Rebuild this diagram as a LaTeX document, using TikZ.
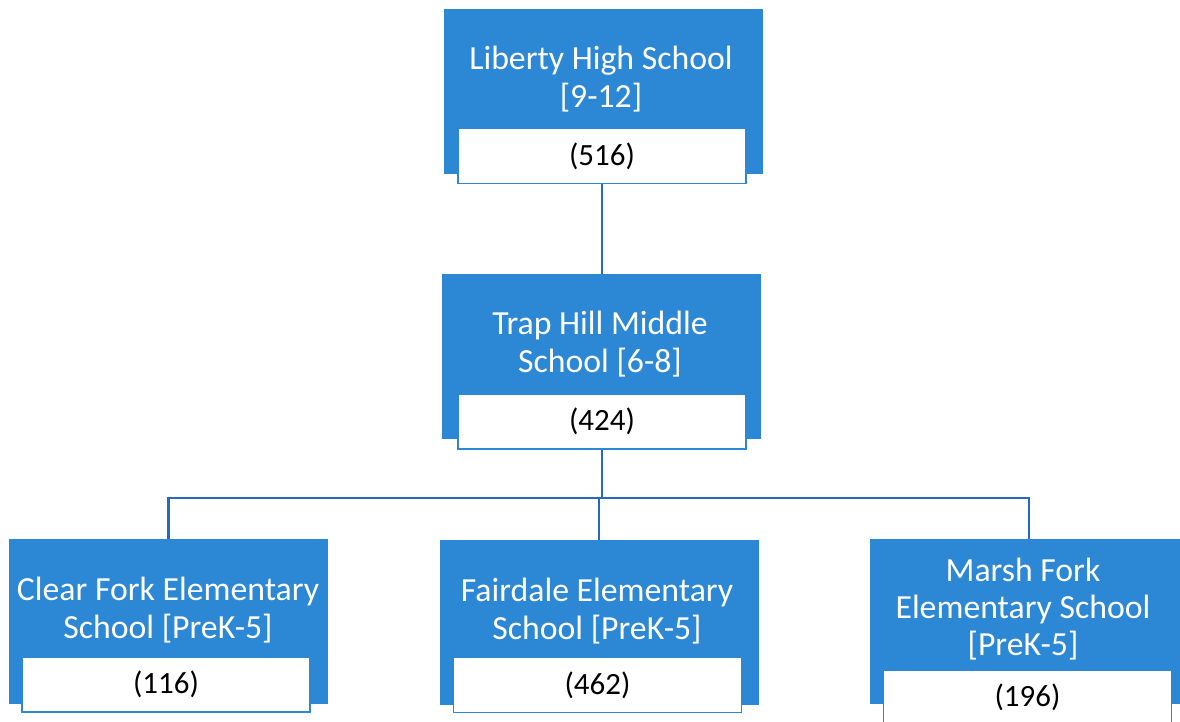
\documentclass[tikz,border=0pt]{standalone}
\usepackage{fontspec}
\setmainfont{Carlito}
\usepackage{xcolor}
\usetikzlibrary{calc, positioning}
\definecolor{schoolblue}{RGB}{44,135,212}
\definecolor{linkblue}{RGB}{38,104,196}
\newcommand{\myfonttitle}{\fontsize{24}{26.5}\selectfont}
\newcommand{\myfontcount}{\fontsize{22}{24}\selectfont}

\begin{document}
\begin{tikzpicture}[x=0.025cm,y=-0.025cm,
	schoolbox/.style={rectangle,fill=schoolblue,draw=schoolblue,inner sep=0pt,minimum width=7.95cm,minimum height=4.1cm},
	titletext/.style={text=white,align=center,font=\myfonttitle},
	countbox/.style={rectangle,fill=white,draw=schoolblue,line width=1.1pt,inner sep=0pt,minimum width=7.2cm,minimum height=1.375cm,font=\myfontcount},
	link/.style={draw=linkblue,line width=1.8pt}]
			%Page frame
			\clip (0,0) rectangle (1180,722);
			%High school
			\node [schoolbox] (lhs) at (603,91) {};
			\node [titletext] (lhstitle) at (601,79) {Liberty High School\\{}[9-12]};
			\node [countbox] (lhscount) at (602,156) {(516)};
			%Middle school
			\node [schoolbox] (thms) at (601.5,356) {};
			\node [titletext] (thmstitle) at (600,344) {Trap Hill Middle\\School [6-8]};
			\node [countbox] (thmscount) at (602,421.5) {(424)};
			%Elementary schools
			\node [schoolbox] (cfes) at (168.5,621) {};
			\node [titletext] (cfestitle) at (168,610) {Clear Fork Elementary\\School [PreK-5]};
			\node [countbox] (cfescount) at (166,684.5) {(116)};
			\node [schoolbox] (fes) at (599,622) {};
			\node [titletext] (festitle) at (597,611) {Fairdale Elementary\\School [PreK-5]};
			\node [countbox] (fescount) at (597.5,685) {(462)};
			\node [schoolbox] (mfes) at (1029,621.5) {};
			\node [titletext] (mfestitle) at (1023,609) {Marsh Fork\\Elementary School\\{}[PreK-5]};
			\node [countbox] (mfescount) at (1027.5,697.5) {(196)};
			%Connectors
			\coordinate (bus) at (600,498);
			\draw [link] (lhscount.south) -- (lhscount.south |- thms.north);
			\draw [link] (thmscount.south) -- (thmscount.south |- bus);
			\draw [link] (cfes.north) |- (bus) -| (mfes.north);
			\draw [link] (bus -| fes.north) -- (fes.north);
\end{tikzpicture}
\end{document}
